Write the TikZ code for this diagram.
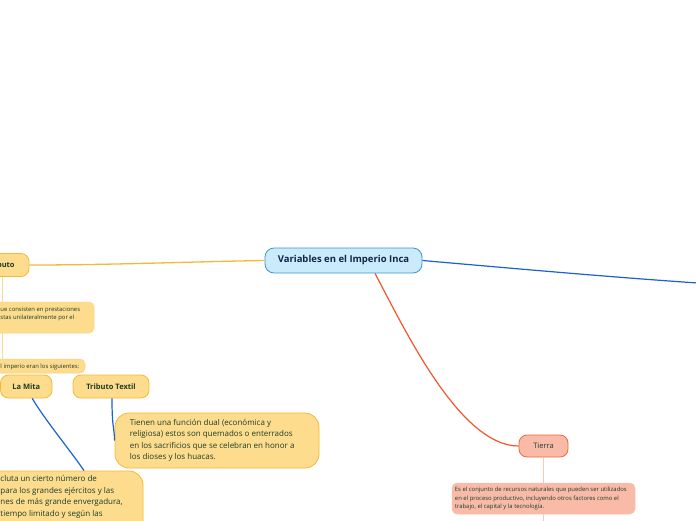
\documentclass[tikz,border=0pt]{standalone}
\usepackage{fontspec}
\setmainfont{Open Sans}
\definecolor{cfill}{HTML}{C9EBFC}
\definecolor{cborder}{HTML}{3F93D3}
\definecolor{navy}{HTML}{102646}
\definecolor{yfill}{HTML}{FEDC8E}
\definecolor{yborder}{HTML}{F6B936}
\definecolor{ynoteb}{HTML}{FDD27E}
\definecolor{ypale}{HTML}{FFD98E}
\definecolor{dgreen}{HTML}{1C3D2B}
\definecolor{bline}{HTML}{1B5FD1}
\definecolor{oline}{HTML}{F2562E}
\definecolor{sfill}{HTML}{F9BBA7}
\definecolor{sborder}{HTML}{F0683C}
\definecolor{snoteb}{HTML}{F7C3B1}
\definecolor{spale}{HTML}{F9C9B8}
\tikzset{
  central/.style={draw=cborder, fill=cfill, rounded corners=9, line width=0.8pt,
    minimum width=157pt, minimum height=25pt, inner sep=0pt,
    font=\fontsize{9.5}{11}\selectfont\bfseries, text=navy},
  ytopic/.style={draw=yborder, fill=yfill, rounded corners=8, line width=0.8pt,
    minimum height=23pt, inner sep=0pt,
    font=\fontsize{7.5}{9}\selectfont\bfseries, text=dgreen},
  ynote/.style={draw=ynoteb, fill=yfill, rounded corners=5, line width=0.5pt, inner sep=0pt},
  ybig/.style={draw=yborder, fill=yfill, rounded corners=14, line width=0.8pt, inner sep=0pt},
  stopic/.style={draw=sborder, fill=sfill, rounded corners=8, line width=0.8pt,
    minimum height=22pt, inner sep=0pt,
    font=\fontsize{7.5}{9}\selectfont, text=dgreen},
  snote/.style={draw=snoteb, fill=sfill, rounded corners=5, line width=0.5pt, inner sep=0pt},
  smalltxt/.style={font=\fontsize{5.9}{8.5}\selectfont, text=dgreen, inner sep=0pt, align=left},
  midtxt/.style={font=\fontsize{8}{11.5}\selectfont, text=dgreen, inner sep=0pt, align=left},
  ycon/.style={draw=yborder, line width=1.3pt},
  ythin/.style={draw=ypale, line width=0.8pt},
  bcon/.style={draw=bline, line width=1.2pt},
  ocon/.style={draw=oline, line width=1.2pt},
  sthin/.style={draw=spale, line width=0.8pt}
}
\begin{document}
\begin{tikzpicture}[x=1pt,y=-1pt]
\useasboundingbox (0,0) rectangle (696,520);
\clip (0,0) rectangle (696,520);

% nodes
\node[central] (c) at (343.5,260.5) {Variables en el Imperio Inca};
\node[ytopic, minimum width=56pt] (tr) at (1,265) {Tributo};
\node[ynote, minimum width=160pt, minimum height=31pt] (t1) at (14,317.5) {};
\node[ynote, minimum width=150pt, minimum height=14pt] (t2) at (10,366) {};
\node[ytopic, minimum width=51.5pt] (lm) at (26.25,386.5) {La Mita};
\node[ytopic, minimum width=76pt] (tt) at (111,386.5) {Tributo Textil};
\node[ybig, minimum width=204pt, minimum height=55pt] (b3) at (217,440.5) {};
\node[ybig, minimum width=203pt, minimum height=89pt] (bg) at (41.5,515.5) {};
\node[stopic, minimum width=49pt] (ti) at (543.5,446) {Tierra};
\node[snote, minimum width=183pt, minimum height=31pt] (tn) at (543.5,498.5) {};
\coordinate (r) at (720,284.5);
\coordinate (down) at (543.5,530);

% texts
\node[smalltxt, anchor=west] (t1a) at (0.3,310.5) {ue consisten en prestaciones};
\node[smalltxt, anchor=west] (t1b) at (0.3,318) {stas unilateralmente por el};
\node[smalltxt, anchor=west] (t2a) at (0.3,366.5) {l imperio eran los siguientes:};
\node[midtxt, anchor=west] (b3t) at ([xshift=15pt]b3.west) {Tienen una función dual (económica y\\religiosa) estos son quemados o enterrados\\en los sacrificios que se celebran en honor a\\los dioses y los huacas.};
\node[midtxt, anchor=north west] (bgt) at (0.3,475.5) {cluta un cierto número de\\para los grandes ejércitos y las\\nes de más grande envergadura,\\tiempo limitado y según las};
\node[smalltxt, anchor=west] (tnt) at ([xshift=3pt]tn.west) {Es el conjunto de recursos naturales que pueden ser utilizados\\en el proceso productivo, incluyendo otros factores como el\\trabajo, el capital y la tecnología.};

% connectors
\draw[ycon] (c.west) .. controls (180,262) and (110,265) .. (tr.east);
\draw[ythin] ([xshift=1.5pt]tr.south) -- ([xshift=1.5pt]tr.south |- t1.north);
\draw[ythin] ([xshift=1.5pt]tr.south |- t1.south) -- ([xshift=1.5pt]tr.south |- t2.north);
\draw[bcon] ([xshift=6pt]lm.south) .. controls (45,420) and (70,450) .. ([xshift=42.5pt]bg.north);
\draw[bcon] ([xshift=1pt]tt.south) .. controls (112,428) and (114,425) .. (b3.west);
\draw[bcon] (c.east) .. controls (520,269) and (620,278) .. (r);
\draw[ocon] ([xshift=31.5pt]c.south) .. controls (405,330) and (460,446) .. (ti.west);
\draw[sthin] (ti.south) -- (tn.north);
\draw[sthin] (tn.south) -- (down);
\end{tikzpicture}
\end{document}
